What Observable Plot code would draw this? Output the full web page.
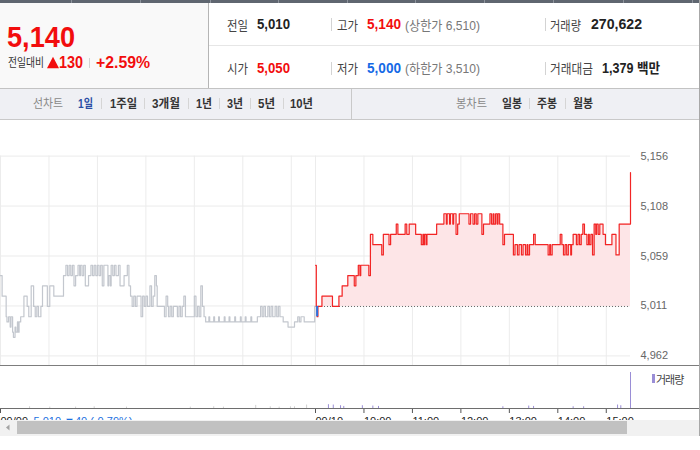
<!DOCTYPE html>
<html><head><meta charset="utf-8">
<script src="https://cdn.jsdelivr.net/npm/d3@7"></script>
<script src="https://cdn.jsdelivr.net/npm/@observablehq/plot@0.6"></script>
<style>
html,body{margin:0;padding:0;background:#fff;}
body{width:700px;height:450px;position:relative;overflow:hidden;font-family:"Liberation Sans",Arial,"Noto Sans CJK KR",sans-serif;}
.abs{position:absolute;}
</style></head><body>
<svg class="abs" style="left:0;top:0" width="700" height="120" font-family="'Liberation Sans', Arial, 'Noto Sans CJK KR', sans-serif">
  <rect x="0" y="0" width="700" height="3" fill="#5f6670"/>
  <g stroke="#8d939c">
    <line x1="71.5" y1="0" x2="71.5" y2="3"/><line x1="140.5" y1="0" x2="140.5" y2="3"/><line x1="210.5" y1="0" x2="210.5" y2="3"/>
    <line x1="278.5" y1="0" x2="278.5" y2="3"/><line x1="347.5" y1="0" x2="347.5" y2="3"/><line x1="415.5" y1="0" x2="415.5" y2="3"/>
    <line x1="484.5" y1="0" x2="484.5" y2="3"/><line x1="553.5" y1="0" x2="553.5" y2="3"/><line x1="623.5" y1="0" x2="623.5" y2="3"/>
    <line x1="692.5" y1="0" x2="692.5" y2="3"/>
  </g>
  <rect x="0" y="3" width="208" height="85" fill="#f9f9f9"/>
  <line x1="208.5" y1="3" x2="208.5" y2="88" stroke="#b5b5b5"/>
  <line x1="209" y1="45.5" x2="699" y2="45.5" stroke="#e6e6e6"/>
  <!-- left quote -->
  <text x="7" y="46.7" font-size="30" font-weight="bold" fill="#f20d0d" textLength="68" lengthAdjust="spacingAndGlyphs">5,140</text>
  <text x="8" y="67" font-size="12" fill="#333" textLength="36" lengthAdjust="spacingAndGlyphs">전일대비</text>
  <polygon points="47,68.3 59,68.3 53,56.7" fill="#f20d0d"/>
  <text x="59" y="68.3" font-size="16" font-weight="bold" fill="#f20d0d" textLength="24" lengthAdjust="spacingAndGlyphs">130</text>
  <line x1="89.5" y1="58" x2="89.5" y2="68" stroke="#d3d3d3"/>
  <text x="96" y="68.3" font-size="16" font-weight="bold" fill="#f20d0d" textLength="54" lengthAdjust="spacingAndGlyphs">+2.59%</text>
  <!-- right quote rows -->
  <g font-size="13" fill="#444" lengthAdjust="spacingAndGlyphs">
    <text x="227" y="29.5" textLength="21" lengthAdjust="spacingAndGlyphs">전일</text>
    <text x="337" y="29.5" textLength="21" lengthAdjust="spacingAndGlyphs">고가</text>
    <text x="405" y="29.5" textLength="75" lengthAdjust="spacingAndGlyphs" fill="#777">(상한가 6,510)</text>
    <text x="550" y="29.5" textLength="31" lengthAdjust="spacingAndGlyphs">거래량</text>
    <text x="227" y="73" textLength="21" lengthAdjust="spacingAndGlyphs">시가</text>
    <text x="337" y="73" textLength="21" lengthAdjust="spacingAndGlyphs">저가</text>
    <text x="405" y="73" textLength="75" lengthAdjust="spacingAndGlyphs" fill="#777">(하한가 3,510)</text>
    <text x="550" y="73" textLength="43" lengthAdjust="spacingAndGlyphs">거래대금</text>
  </g>
  <g font-size="14" font-weight="bold" fill="#222">
    <text x="257" y="29.3" textLength="33" lengthAdjust="spacingAndGlyphs">5,010</text>
    <text x="367" y="29.3" textLength="34" lengthAdjust="spacingAndGlyphs" fill="#f20d0d">5,140</text>
    <text x="591" y="29.3" textLength="51" lengthAdjust="spacingAndGlyphs">270,622</text>
    <text x="257" y="72.8" textLength="33" lengthAdjust="spacingAndGlyphs" fill="#f20d0d">5,050</text>
    <text x="367" y="72.8" textLength="34" lengthAdjust="spacingAndGlyphs" fill="#1469e6">5,000</text>
    <text x="602" y="72.8" textLength="58" lengthAdjust="spacingAndGlyphs">1,379 백만</text>
  </g>
  <g stroke="#d3d3d3">
    <line x1="331.5" y1="18" x2="331.5" y2="31"/><line x1="545.5" y1="18" x2="545.5" y2="31"/>
    <line x1="331.5" y1="62" x2="331.5" y2="75"/><line x1="545.5" y1="62" x2="545.5" y2="75"/>
  </g>
  <!-- toolbar -->
  <rect x="0" y="88" width="700" height="32" fill="#eff0f4"/>
  <line x1="0" y1="88.5" x2="700" y2="88.5" stroke="#c3c3c3"/>
  <line x1="0" y1="119.5" x2="700" y2="119.5" stroke="#c9c9c9"/>
  <line x1="351.5" y1="89" x2="351.5" y2="119" stroke="#c9c9c9"/>
  <g font-size="12.5" font-weight="bold" fill="#333">
    <text x="33" y="108" font-weight="normal" fill="#888" textLength="30" lengthAdjust="spacingAndGlyphs">선차트</text>
    <text x="78" y="108" fill="#2b4ea5" textLength="15" lengthAdjust="spacingAndGlyphs">1일</text>
    <text x="110" y="108" textLength="27" lengthAdjust="spacingAndGlyphs">1주일</text>
    <text x="152" y="108" textLength="28" lengthAdjust="spacingAndGlyphs">3개월</text>
    <text x="196" y="108" textLength="16" lengthAdjust="spacingAndGlyphs">1년</text>
    <text x="227" y="108" textLength="16" lengthAdjust="spacingAndGlyphs">3년</text>
    <text x="258" y="108" textLength="17" lengthAdjust="spacingAndGlyphs">5년</text>
    <text x="290" y="108" textLength="23" lengthAdjust="spacingAndGlyphs">10년</text>
    <text x="456" y="108" font-weight="normal" fill="#888" textLength="31" lengthAdjust="spacingAndGlyphs">봉차트</text>
    <text x="502" y="108" textLength="20" lengthAdjust="spacingAndGlyphs">일봉</text>
    <text x="537" y="108" textLength="20" lengthAdjust="spacingAndGlyphs">주봉</text>
    <text x="573" y="108" textLength="20" lengthAdjust="spacingAndGlyphs">월봉</text>
  </g>
  <g stroke="#d5d5d5">
    <line x1="101.5" y1="98" x2="101.5" y2="109"/><line x1="144.5" y1="98" x2="144.5" y2="109"/>
    <line x1="188.5" y1="98" x2="188.5" y2="109"/><line x1="219.5" y1="98" x2="219.5" y2="109"/>
    <line x1="250.5" y1="98" x2="250.5" y2="109"/><line x1="283.5" y1="98" x2="283.5" y2="109"/>
    <line x1="529.5" y1="98" x2="529.5" y2="109"/><line x1="565.5" y1="98" x2="565.5" y2="109"/>
  </g>
</svg>
<div id="price" class="abs" style="left:0;top:120px;width:700px;height:246px;overflow:hidden"></div>
<div id="vol" class="abs" style="left:0;top:366px;width:700px;height:54px;overflow:hidden"></div>
<div class="abs" style="left:0;top:365px;width:700px;height:1px;background:#7d7d7d"></div>
<div class="abs" style="left:652px;top:374px;width:3px;height:9px;background:#9a8ed6"></div>
<div class="abs" style="left:656px;top:371px;font:11px 'Noto Sans CJK KR',sans-serif;line-height:16px;color:#444;letter-spacing:-1px">거래량</div>
<div class="abs" style="left:0;top:420px;width:700px;height:16px;background:#f1f1f1"></div>
<div class="abs" style="left:17px;top:421px;width:610px;height:13px;background:#c1c1c1"></div>
<svg class="abs" style="left:0;top:420px" width="17" height="16"><polygon points="6,7.5 9.5,4.5 9.5,10.5" fill="#a3a3a3"/></svg>
<div class="abs" style="left:699px;top:0;width:1px;height:436px;background:#a8a8a8"></div>
<script>
// ---- data ----
const prevClose = 5010;
// previous day (09/09) minute-line, minutes after 09:00 and price
const yestMin = [0,2,7,8,10,12,13,15,16,18,19,21,22,23,25,29,33,35,38,41,43,45,47,50,52,58,61,66,78,81,83,85,87,89,91,93,96,98,99,101,103,105,109,112,114,116,118,120,122,124,126,128,133,134,136,137,139,141,143,146,148,153,157,159,161,163,165,167,169,174,176,178,180,182,185,187,189,191,193,194,203,205,207,208,210,212,214,217,219,221,223,225,227,229,240,242,244,246,248,250,252,254,258,259,264,265,270,271,277,278,283,284,290,291,297,298,303,304,310,311,318,322,324,326,328,331,333,335,337,340,342,344,346,350,356,364,368,370,372,376,389,390];
const yestPrice = [5040,5020,5000,4995,5000,4990,5000,4985,4980,4990,4985,4995,4985,4995,5000,5020,5010,5000,5030,5010,5000,5010,5000,5010,5030,5010,5030,5020,5040,5050,5040,5050,5040,5050,5030,5040,5050,5040,5050,5040,5050,5030,5040,5050,5040,5050,5040,5050,5040,5050,5030,5050,5030,5040,5030,5050,5040,5050,5040,5050,5030,5040,5050,5030,5020,5010,5020,5010,5020,5000,5020,5010,5020,5010,5030,5010,5020,5040,5030,5010,5000,5020,5010,5000,5010,5000,5010,5010,5000,5010,5000,5010,5020,5000,5020,5000,5010,5000,5030,5010,5000,4995,5000,4995,5000,4995,5000,4995,5000,4995,5000,4995,5000,4995,5000,4995,5000,4995,5000,4995,5000,5010,5000,5010,5000,5010,5000,5010,5000,5010,5000,5010,5000,4995,4990,4995,5000,4995,5000,4995,5010,5010];
// today (09/10)
const todayMin = [0,1,2,3,8,21,29,33,40,48,50,53,55,56,66,68,71,82,84,91,93,100,102,111,113,116,124,131,133,134,135,137,138,150,159,162,163,166,167,170,171,174,176,178,190,192,195,197,199,201,206,208,216,218,220,221,223,225,226,228,232,234,245,247,250,252,255,257,260,262,263,265,270,272,288,290,291,293,303,305,307,309,311,313,316,317,319,323,325,327,329,331,333,336,338,339,341,343,345,347,348,350,352,356,359,367,372,376,390];
const todayPrice = [5050,5010,5000,5010,5020,5010,5020,5030,5040,5030,5040,5050,5040,5050,5040,5080,5070,5060,5080,5070,5080,5090,5080,5090,5080,5090,5080,5070,5080,5070,5080,5070,5080,5090,5100,5090,5100,5090,5100,5090,5100,5080,5090,5100,5090,5100,5090,5100,5090,5100,5080,5090,5100,5090,5100,5090,5100,5090,5100,5090,5070,5080,5060,5070,5060,5070,5060,5070,5060,5070,5060,5070,5080,5070,5060,5070,5060,5070,5080,5070,5060,5070,5060,5070,5060,5070,5080,5070,5080,5070,5080,5090,5080,5070,5080,5070,5080,5060,5090,5080,5090,5080,5090,5080,5070,5080,5060,5090,5140];
// y axis ticks
const yTicks = [4962, 5010.5, 5059, 5107.5, 5156];
const yTickLabels = ["4,962", "5,011", "5,059", "5,108", "5,156"];
// time grid / ticks (minutes on a two-session axis)
const gridMinutes = [0,60,120,180,240,300,360,390,450,510,570,630,690,750];
const xTickMinutes = [0,390,450,510,570,630,690,750];
const xTickLabels = ["09/09","09/10","10:00","11:00","12:00","13:00","14:00","15:00"];
const firstTickNote = "5,010 ▼40 (-0.79%)";
// volume
const yestVolMin = [36,61,93,116,156,235,264,276,316,334,345,359,364,379];
const yestVol = [2500,2000,2000,2500,2000,2000,2500,2000,4500,2500,2000,2500,2500,5000];
const todayVolMin = [16,22,31,35,58,71,78,232,264,270,319,332,374,378,390];
const todayVol = [5500,5000,4000,3000,4000,3500,3000,2500,3500,3000,2500,2500,5000,4000,52000];

// ---- build ----
const yest = yestMin.map((m, i) => ({x: m, p: yestPrice[i]}));
const today = todayMin.map((m, i) => ({x: 390 + m, p: todayPrice[i]}));
const yVolData = yestVolMin.map((m, i) => ({x: m, v: yestVol[i]}));
const tVolData = todayVolMin.map((m, i) => ({x: 390 + m, v: todayVol[i]}));
const font = "'Liberation Sans', Arial, sans-serif";

const price = Plot.plot({
  width: 700, height: 246,
  marginTop: 35.6, marginBottom: 0, marginLeft: 0, marginRight: 70,
  x: {domain: [0, 780], range: [0, 630], axis: null},
  y: {domain: [4962, 5156], range: [235.4, 35.6], axis: null},
  style: {background: "#fff", fontFamily: font, fontSize: "11px", color: "#666"},
  marks: [
    Plot.ruleY(yTicks, {stroke: "#ebebeb"}),
    Plot.ruleX(gridMinutes, {stroke: "#ececec"}),
    Plot.areaY(today, {x: "x", y1: () => prevClose, y2: "p", curve: "step-after", fill: "#fde5e7"}),
    Plot.ruleY([prevClose], {x1: () => 390, x2: () => 780, stroke: "#666", strokeDasharray: "1,2"}),
    Plot.line(yest, {x: "x", y: "p", curve: "step-after", stroke: "#c3c7ce", strokeWidth: 1.2}),
    Plot.line(today, {x: "x", y: "p", curve: "step-after", stroke: "#f22525", strokeWidth: 1.2}),
    Plot.ruleX(today.filter(d => d.p < prevClose), {x: "x", y1: () => prevClose, y2: "p", stroke: "#2a72e0", strokeWidth: 2}),
    Plot.text(yTicks, {y: d => d, text: (d, i) => yTickLabels[i], frameAnchor: "right", dx: 10, textAnchor: "start", fill: "#666", fontSize: 11})
  ]
});
document.getElementById("price").appendChild(price);

const volMax = d3.max(todayVol.concat(yestVol));
const vol = Plot.plot({
  width: 700, height: 54,
  marginTop: 0, marginBottom: 12, marginLeft: 0, marginRight: 0,
  x: {domain: [0, 780], range: [0, 630], ticks: xTickMinutes, tickSize: 5, tickFormat: () => "", tickPadding: 0, label: null},
  y: {domain: [0, volMax], range: [42, 6], axis: null, label: null},
  style: {background: "#fff", fontFamily: font, fontSize: "11px", color: "#555"},
  marks: [
    Plot.ruleX(yVolData, {x: "x", y1: () => 0, y2: "v", stroke: "#cfcfcf"}),
    Plot.ruleX(tVolData, {x: "x", y1: () => 0, y2: "v", stroke: "#9a8ed6"}),
    Plot.ruleY([0], {stroke: "#6e6e6e"}),
    Plot.text(xTickMinutes, {x: d => d, text: (d, i) => xTickLabels[i], frameAnchor: "bottom", dy: 9, textAnchor: "start", lineAnchor: "top", fill: "#222", fontSize: 11}),
    Plot.text([0], {x: d => d, text: () => firstTickNote, frameAnchor: "bottom", dx: 33, dy: 9, textAnchor: "start", lineAnchor: "top", fill: "#1a6fe0", fontSize: 11})
  ]
});
document.getElementById("vol").appendChild(vol);
</script>
</body></html>
